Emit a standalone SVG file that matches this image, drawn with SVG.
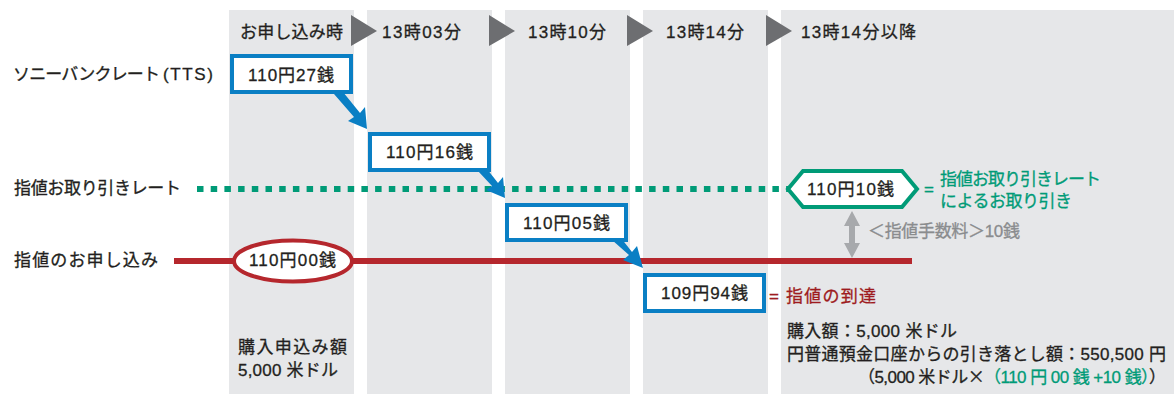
<svg xmlns="http://www.w3.org/2000/svg" width="1174" height="394" viewBox="0 0 1174 394">
<defs>
<style>
text{font-family:"Liberation Sans","Noto Sans CJK JP",sans-serif;font-size:17px;fill:#231f20;stroke:#231f20;stroke-width:0.3px}
.cjk{font-family:"Noto Sans CJK JP",sans-serif}
.col{fill:#e6e7e9}
.head{fill:#6d6e71}
.box{fill:#fff;stroke:#0a7fc4;stroke-width:4}
.g{fill:#009b77;stroke:#009b77}
.r{fill:#9e1b20;stroke:#9e1b20}
.gy{fill:#8a8c8e;stroke:#8a8c8e}
.arrow{fill:#0a7fc4}
</style>
</defs>
<g id="columns">
<rect class="col" x="229" y="10" width="125" height="384"/>
<rect class="col" x="367" y="10" width="125" height="384"/>
<rect class="col" x="505" y="10" width="125" height="384"/>
<rect class="col" x="643" y="10" width="125" height="384"/>
<rect class="col" x="781" y="10" width="393" height="384"/>
</g>
<g id="timeline">
<polygon class="head" points="351,15 377,31 351,46"/>
<polygon class="head" points="489,15 515,31 489,46"/>
<polygon class="head" points="627,15 653,31 627,46"/>
<polygon class="head" points="766,15 792,31 766,46"/>
<text x="240" y="38" textLength="103">お申し込み時</text>
<text x="382" y="38" textLength="79">13時03分</text>
<text x="528" y="38" textLength="78">13時10分</text>
<text x="666" y="38" textLength="78">13時14分</text>
<text x="801" y="38" textLength="115">13時14分以降</text>
</g>
<g id="row-labels">
<text x="13" y="80" textLength="147">ソニーバンクレート</text>
<text x="163" y="80" textLength="50">(TTS)</text>
<text x="14" y="194" textLength="167">指値お取り引きレート</text>
<text x="14" y="266" textLength="144">指値のお申し込み</text>
</g>
<g id="connectors">
<line x1="197" y1="189" x2="790" y2="189" stroke="#009b77" stroke-width="6" stroke-dasharray="6.5 7.2"/>
<line x1="174" y1="261" x2="912" y2="261" stroke="#b5272d" stroke-width="6"/>
<g class="arrow">
<polygon points="334,94 343,92 360,113 365,107 367,129 348,121 354,117"/>
<polygon points="478,171 487,169 498,183 503,177 505,198 486,190 492,186"/>
<polygon points="612,240 621,238 632,252 637,246 643,268 623,260 629,255"/>
</g>
<polygon points="852,211 860,226 855,226 855,243 860,243 852,258 844,243 849,243 849,226 844,226" fill="#a7a9ac"/>
</g>
<g id="rate-1"><rect class="box" x="232" y="56" width="119" height="36"/><text x="248" y="81" textLength="86">110円27銭</text></g>
<g id="rate-2"><rect class="box" x="370" y="134" width="119" height="36"/><text x="386" y="158" textLength="87">110円16銭</text></g>
<g id="rate-3"><rect class="box" x="507" y="205" width="119" height="35"/><text x="523" y="229" textLength="87">110円05銭</text></g>
<g id="rate-4"><rect class="box" x="645" y="275" width="119" height="36"/><text x="661" y="299" textLength="87">109円94銭</text></g>
<g id="limit-order"><ellipse cx="293" cy="261" rx="59" ry="20.500" fill="#fff" stroke="#b5272d" stroke-width="4"/><text x="249" y="266" textLength="87">110円00銭</text></g>
<g id="limit-rate"><polygon points="788,189 803,171 902,171 917,189 902,207 803,207" fill="#fff" stroke="#009b77" stroke-width="4"/><text x="807" y="195" textLength="87">110円10銭</text></g>
<g id="notes">
<text class="g" x="924" y="195">=</text>
<text class="g" x="940" y="185" textLength="161">指値お取り引きレート</text>
<text class="g" x="940" y="207" textLength="132">によるお取り引き</text>
<text class="gy" x="868" y="237" textLength="152">＜指値手数料＞10銭</text>
<text class="r" x="769" y="302">=</text>
<text class="r" x="786" y="302" textLength="90">指値の到達</text>
<text x="787" y="337" textLength="170">購入額：5,000 米ドル</text>
<text x="787" y="360" textLength="379">円普通預金口座からの引き落とし額：550,500 円</text>
<text x="858" y="383" textLength="308">（5,000 米ドル<tspan class="cjk">×</tspan><tspan class="g">（110 円 00 銭 +10 銭）</tspan>）</text>
<text x="238" y="353" textLength="109">購入申込み額</text>
<text x="238" y="376" textLength="100">5,000 米ドル</text>
</g>
</svg>
